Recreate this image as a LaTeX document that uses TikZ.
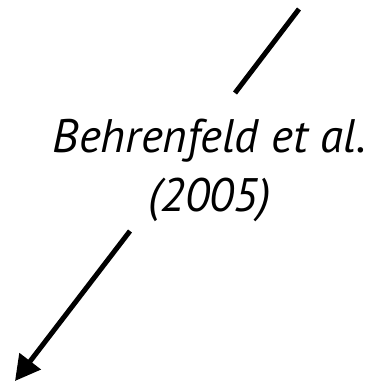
\documentclass[tikz,border=0pt]{standalone}
\usepackage{fontspec}
\newfontfamily\citefont{PT Sans}
\usetikzlibrary{arrows.meta}
\begin{document}
\begin{tikzpicture}[
  x=1pt, y=-1pt,
  link/.style={draw, line width=5pt},
  cite/.style={align=center, inner sep=0pt, font=\citefont\itshape\fontsize{47}{59}\selectfont}
]
\useasboundingbox (0,0) rectangle (370,383);
\coordinate (src) at (299,9);
\coordinate (gapA) at (235,93);
\coordinate (gapB) at (130,231);
\coordinate (dst) at (15,381);
\node[cite] (ref) at (209.5,170) {Behrenfeld et al.\\(2005)};
\draw[link] (src) -- (gapA);
\draw[link, -{Triangle[length=25pt, width=26pt]}] (gapB) -- (dst);
\end{tikzpicture}
\end{document}
